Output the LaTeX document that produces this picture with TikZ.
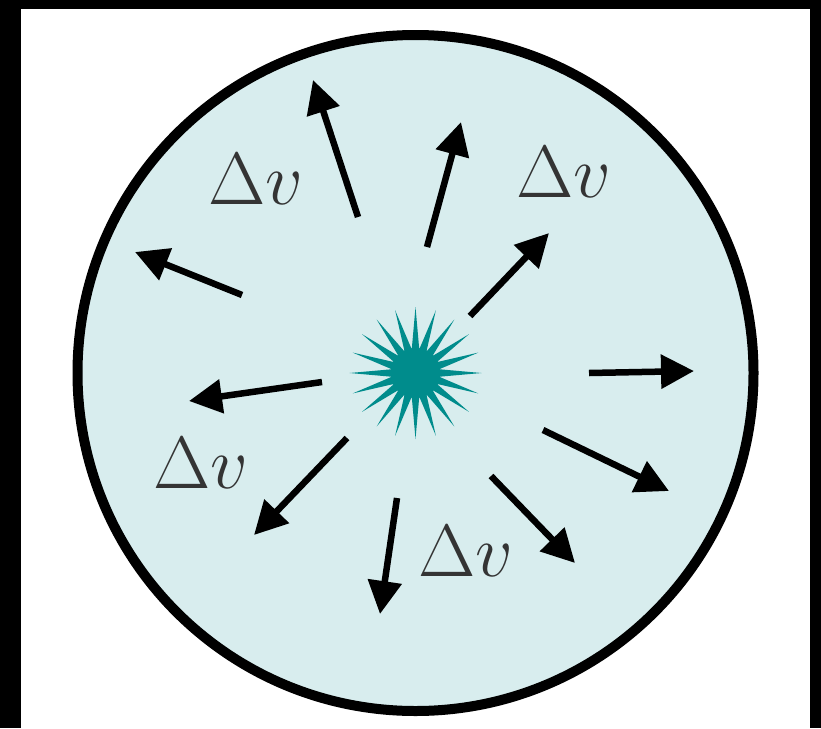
\documentclass[tikz,border=0pt]{standalone}
\usepackage{graphicx}
\usetikzlibrary{arrows.meta}
\definecolor{diskfill}{RGB}{216,237,238}
\definecolor{startcol}{RGB}{0,140,140}
\definecolor{labelcol}{RGB}{52,52,52}
\newcommand{\dvtext}{\scalebox{2.98}{\Huge$\Delta v$}}
\tikzset{
  vecarrow/.style={line width=6.5pt, line cap=butt, -{Triangle[length=33pt,width=33pt]}},
  dvlabel/.style={anchor=base west, inner sep=0pt, text=labelcol},
}
\begin{document}
\begin{tikzpicture}[x=1pt,y=-1pt]
\useasboundingbox (0,0) rectangle (821,728);
\fill[white] (0,0) rectangle (821,728);
% frame
\fill[black] (0,0) rectangle (821,9);
\fill[black] (0,0) rectangle (21,728);
\fill[black] (810,0) rectangle (821,728);
% disk
\node[circle, draw=black, line width=10pt, fill=diskfill, minimum size=676pt, inner sep=0pt] (disk) at (415.5,373) {};
% star
\fill[startcol]
  \foreach \i in {0,...,19} {
    ([shift={(415.5,373)}]{90+18*\i}:66pt) -- ([shift={(415.5,373)}]{99+18*\i}:24pt) -- ([shift={(415.5,373)}]{81+18*\i}:24pt) -- cycle
  };
\fill[startcol] (415.5,373) circle[radius=25pt];
\node[inner sep=0pt, minimum size=0pt] (star) at (415.5,373) {};
% arrow tails and tips
\coordinate (t1) at (358,217); \coordinate (h1) at (313,80);
\coordinate (t2) at (427,247); \coordinate (h2) at (461,122);
\coordinate (t3) at (470,316); \coordinate (h3) at (549,233);
\coordinate (t4) at (242,295); \coordinate (h4) at (135,252);
\coordinate (t5) at (589,373); \coordinate (h5) at (694,371);
\coordinate (t6) at (322,382); \coordinate (h6) at (189,401);
\coordinate (t7) at (347,438); \coordinate (h7) at (254,535);
\coordinate (t8) at (397,498); \coordinate (h8) at (380,614);
\coordinate (t9) at (491,476); \coordinate (h9) at (575,563);
\coordinate (t10) at (543,430); \coordinate (h10) at (669,491);
\foreach \k in {1,...,10} { \draw[vecarrow] (t\k) -- (h\k); }
% labels
\node[dvlabel] (l1) at (208,204) {\dvtext};
\node[dvlabel] (l2) at (516,197) {\dvtext};
\node[dvlabel] (l3) at (153,488) {\dvtext};
\node[dvlabel] (l4) at (418,576) {\dvtext};
\end{tikzpicture}
\end{document}
